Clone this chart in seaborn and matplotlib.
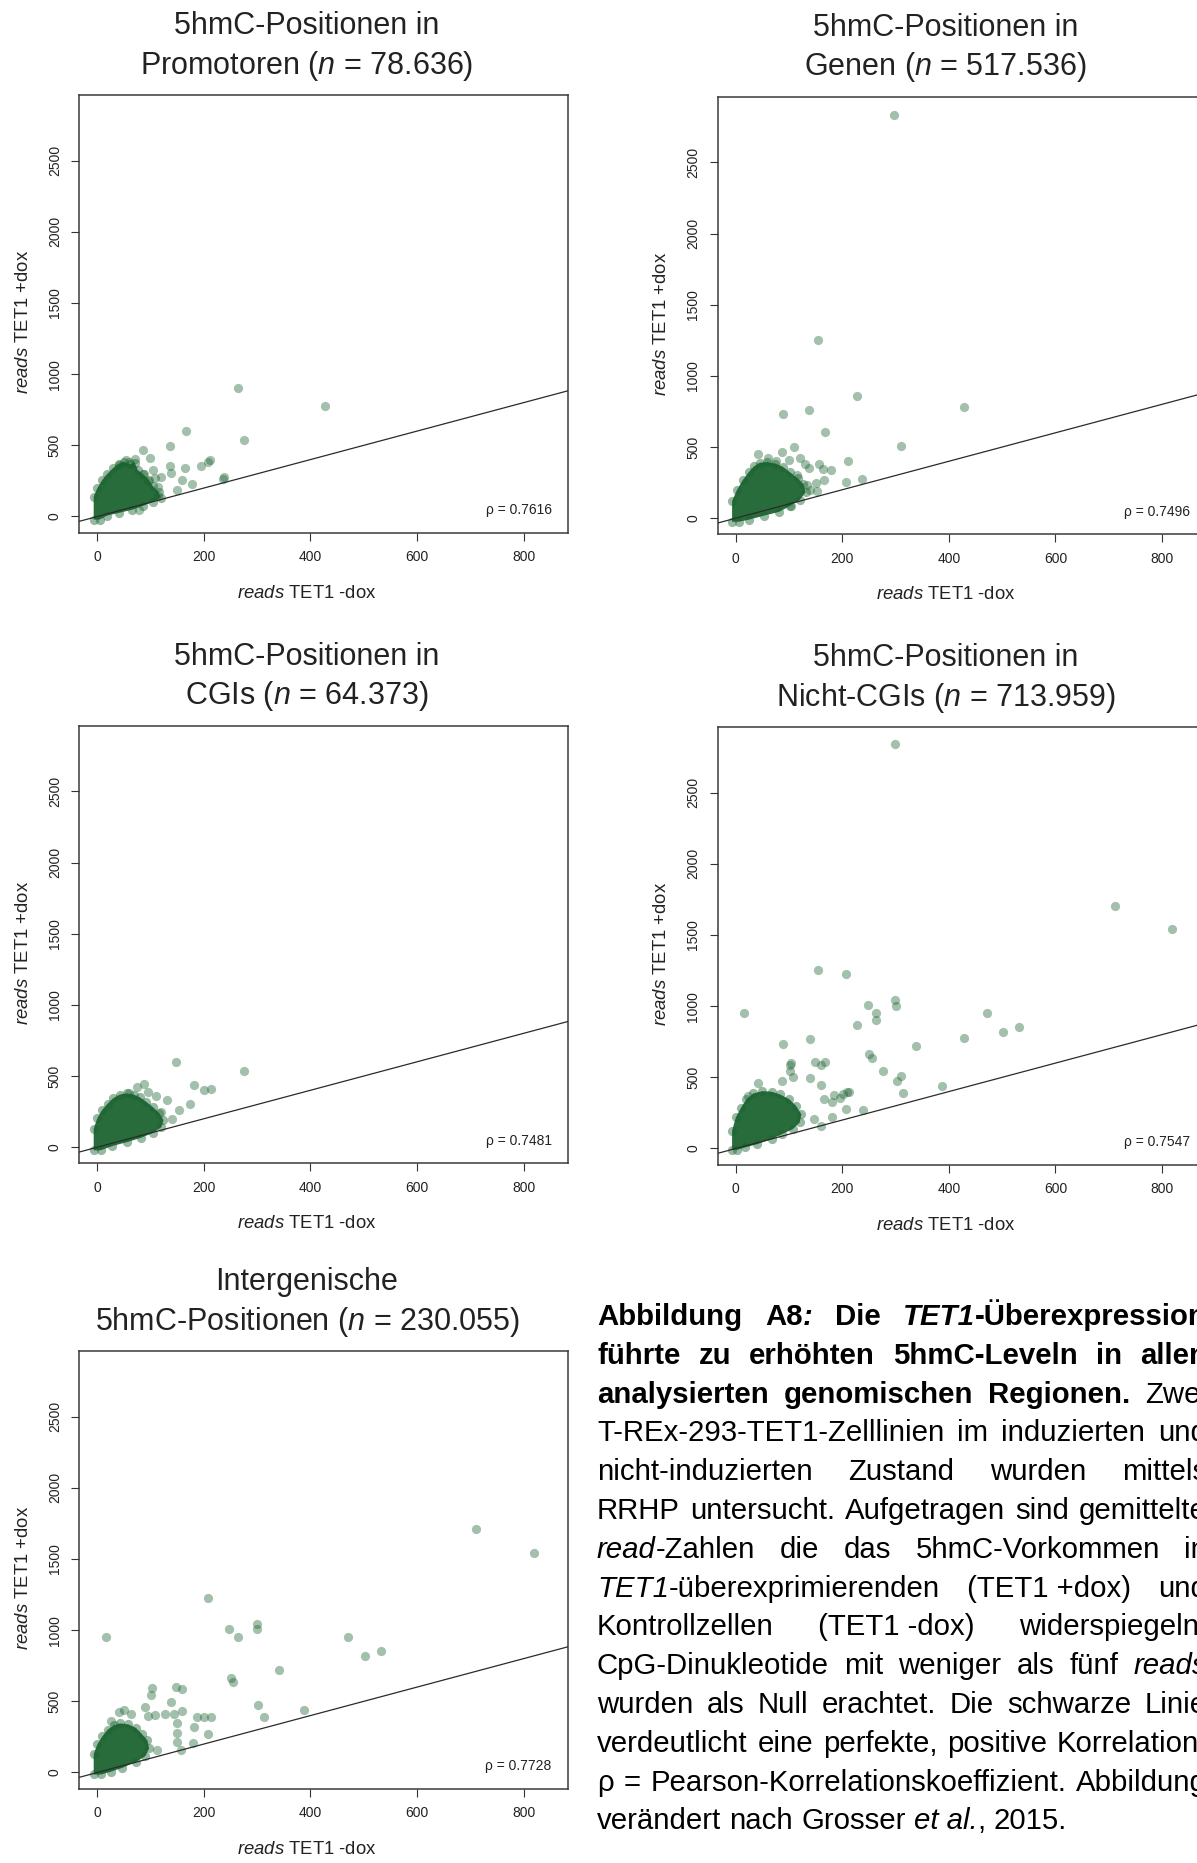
import matplotlib
matplotlib.use("Agg")
import matplotlib.pyplot as plt
import seaborn as sns

# ---------------------------------------------------------------------------
# Read counts (TET1 -dox on x, TET1 +dox on y).
# *_x / *_y : individually visible points around the dense cloud
# *_core_x / *_core_y : outline of the saturated point cloud near the origin
# ---------------------------------------------------------------------------
promo_x = [264, 428, 167, 276, 137, 85, 99, 70, 54, 211, 208, 104, 137, 165, 194,
           139, 108, 158, 177, 238, 236, 150, 113, 113, 78, 120, 95, 60, 88, 40]
promo_y = [903, 778, 603, 539, 492, 464, 414, 403, 400, 400, 386, 325, 353, 344, 353,
           303, 269, 256, 231, 278, 264, 186, 208, 144, 47, 280, 250, 380, 300, 360]
promo_core_x = [-7, -7, 0, 9, 18, 29, 40, 50, 61, 70, 76, 86, 97, 104, 115, 119,
                104, 86, 65, 40, 18, 4]
promo_core_y = [-22, 140, 200, 256, 297, 339, 372, 383, 367, 378, 325, 297, 256, 214,
                172, 131, 103, 75, 47, 25, 6, -22]

gene_x = [297, 154, 227, 138, 88, 429, 167, 311, 109, 41, 86, 211, 121, 99, 157,
          137, 179, 164, 130, 236, 206, 166, 151, 152, 103, 134, 115, 60, 75, 140]
gene_y = [2836, 1253, 858, 758, 733, 778, 606, 506, 497, 453, 467, 403, 422, 411, 381,
          350, 336, 347, 381, 272, 253, 267, 244, 192, 83, 231, 300, 420, 400, 200]
gene_core_x = [-7, -7, 2, 13, 24, 34, 45, 59, 74, 88, 102, 116, 127, 131, 120, 102,
               81, 52, 24, 6]
gene_core_y = [-25, 120, 197, 267, 322, 364, 390, 395, 384, 362, 322, 281, 239, 183,
               128, 86, 44, 17, -11, -25]

cgi_x = [147, 275, 213, 201, 181, 87, 154, 174, 130, 110, 95, 120, 60, 75, 140]
cgi_y = [601, 535, 410, 401, 434, 443, 259, 301, 330, 360, 390, 250, 380, 420, 200]
cgi_core_x = [-7, -7, 0, 9, 19, 30, 42, 55, 68, 80, 92, 104, 116, 124, 120, 104,
              82, 55, 28, 6]
cgi_core_y = [-22, 130, 205, 262, 305, 345, 370, 378, 370, 350, 318, 282, 240, 190,
              140, 100, 66, 35, 8, -22]

noncgi_x = [298, 711, 818, 154, 207, 16, 248, 299, 300, 264, 264, 227, 471, 532, 502,
            428, 139, 88, 339, 250, 255, 276, 311, 303, 313, 388, 103, 102, 148, 167,
            159, 101, 108, 139, 87, 41, 159, 23, 213, 208, 201, 185, 181, 195, 165,
            207, 238, 180, 159, 147]
noncgi_y = [2839, 1707, 1540, 1254, 1224, 950, 1011, 1043, 1003, 952, 905, 870, 954, 851, 818,
            778, 769, 736, 722, 664, 633, 542, 509, 476, 392, 441, 598, 584, 605, 605,
            589, 546, 499, 497, 476, 457, 443, 368, 396, 396, 382, 377, 326, 354, 345,
            274, 270, 218, 157, 209]
noncgi_core_x = [-7, -7, 0, 10, 20, 33, 50, 67, 83, 100, 113, 123, 120, 107, 87, 67,
                 40, 17, 3]
noncgi_core_y = [-9, 124, 218, 288, 347, 387, 403, 399, 380, 347, 300, 241, 183, 136,
                 101, 66, 30, 7, -9]

inter_x = [711, 819, 207, 16, 247, 264, 299, 300, 471, 503, 532, 340, 250, 255, 302,
           312, 388, 102, 101, 147, 158, 138, 90, 40, 50, 63, 95, 109, 126, 144,
           159, 150, 181, 187, 200, 214, 207, 150, 180, 149, 156, 25, 112]
inter_y = [1709, 1541, 1225, 951, 1011, 953, 1041, 1005, 953, 816, 852, 720, 662, 635, 473,
           390, 440, 593, 547, 602, 588, 495, 459, 426, 437, 409, 396, 404, 409, 409,
           431, 349, 321, 387, 393, 393, 272, 275, 206, 217, 157, 363, 157]
inter_core_x = [-7, -7, 0, 9, 19, 31, 43, 58, 72, 83, 94, 97, 90, 72, 47, 25, 7]
inter_core_y = [-14, 129, 198, 253, 300, 333, 345, 338, 314, 272, 225, 170, 115, 74,
                33, 5, -14]

titles_top = ["5hmC-Positionen in", "5hmC-Positionen in", "5hmC-Positionen in",
              "5hmC-Positionen in", "Intergenische"]
titles_bottom = ["Promotoren", "Genen", "CGIs", "Nicht-CGIs", "5hmC-Positionen"]
n_labels = ["78.636", "517.536", "64.373", "713.959", "230.055"]
rho_values = ["0.7616", "0.7496", "0.7481", "0.7547", "0.7728"]

x_ticks = [0, 200, 400, 600, 800]
y_ticks = [0, 500, 1000, 1500, 2000, 2500]
x_range = (0, 850)
y_range = (0, 2848)

# ---------------------------------------------------------------------------
sns.set_style("white")
plt.rcParams["font.family"] = ["Liberation Sans", "DejaVu Sans"]
plt.rcParams["mathtext.fontset"] = "custom"
plt.rcParams["mathtext.rm"] = "Liberation Sans"
plt.rcParams["mathtext.it"] = "Liberation Sans:italic"
plt.rcParams["mathtext.bf"] = "Liberation Sans:bold"

GREEN = "#1a6330"
INK = "#222222"
W, H = 1197, 1863
fig = plt.figure(figsize=(W / 100, H / 100), dpi=100)
fig.patch.set_facecolor("white")

AX_W, AX_H = 489, 437.7


def add_axes_px(left, top):
    return fig.add_axes([left / W, 1 - (top + AX_H) / H, AX_W / W, AX_H / H])


def pad_range(lo, hi):
    d = (hi - lo) * 0.04
    return lo - d, hi + d


def draw_panel(ax, px, py, cx, cy, t1, t2, n, rho):
    ax.set_xlim(*pad_range(*x_range))
    ax.set_ylim(*pad_range(*y_range))
    # saturated cloud of overlapping points near the origin
    ax.fill(cx, cy, color=GREEN, alpha=0.94, lw=0, zorder=2)
    sns.scatterplot(x=cx, y=cy, ax=ax, color=GREEN, alpha=0.45, s=44,
                    linewidth=0, zorder=2)
    # sparse points
    sns.scatterplot(x=px, y=py, ax=ax, color=GREEN, alpha=0.4, s=44,
                    linewidth=0, zorder=3)
    ax.axline((0, 0), slope=1, color="#2b2b2b", lw=0.9, zorder=4)

    ax.set_xticks(x_ticks)
    ax.set_yticks(y_ticks)
    ax.tick_params(axis="both", which="both", direction="out", length=6.1,
                   width=0.8, colors="#333333", labelcolor=INK, labelsize=10,
                   bottom=True, left=True, pad=6.5)
    for lbl in ax.get_yticklabels():
        lbl.set_rotation(90)
        lbl.set_va("center")
    for sp in ax.spines.values():
        sp.set_visible(True)
        sp.set_color("#3a3a3a")
        sp.set_linewidth(1.1)
    ax.set_xlabel("")
    ax.set_ylabel("")

    ax.text(0.4656, -0.1378, r"$\mathit{reads}$ TET1 -dox", transform=ax.transAxes,
            ha="center", va="center", fontsize=13.3, color=INK)
    ax.text(-0.1140, 0.4814, r"$\mathit{reads}$ TET1 +dox", transform=ax.transAxes,
            ha="center", va="center", rotation=90, fontsize=13.3, color=INK)
    ax.text(0.966, 0.052, "\u03c1 = " + rho, transform=ax.transAxes,
            ha="right", va="center", fontsize=10, color=INK)
    ax.text(0.4656, 1.1576, t1, transform=ax.transAxes, ha="center", va="center",
            fontsize=22, color=INK)
    ax.text(0.4656, 1.0670, t2 + r" ($\mathit{n}$ = " + n + ")", transform=ax.transAxes,
            ha="center", va="center", fontsize=22, color=INK)


panels = [
    ((79.3, 95.0), promo_x, promo_y, promo_core_x, promo_core_y),
    ((717.7, 96.7), gene_x, gene_y, gene_core_x, gene_core_y),
    ((79.3, 725.7), cgi_x, cgi_y, cgi_core_x, cgi_core_y),
    ((717.7, 727.0), noncgi_x, noncgi_y, noncgi_core_x, noncgi_core_y),
    ((79.3, 1351.0), inter_x, inter_y, inter_core_x, inter_core_y),
]
for i, (pos, px, py, cx, cy) in enumerate(panels):
    ax = add_axes_px(*pos)
    draw_panel(ax, px, py, cx, cy, titles_top[i], titles_bottom[i],
               n_labels[i], rho_values[i])

# ---------------------------------------------------------------------------
# Figure caption, set as a justified block of text
# ---------------------------------------------------------------------------
CAP_SIZE = 21.2
STY = {
    "r": dict(fontweight="normal", fontstyle="normal"),
    "b": dict(fontweight="bold", fontstyle="normal"),
    "i": dict(fontweight="normal", fontstyle="italic"),
    "bi": dict(fontweight="bold", fontstyle="italic"),
}


def words(s, st):
    return [[(w, st)] for w in s.split(" ")]


caption_lines = [
    [[("Abbildung", "b")], [("A8", "b"), (":", "bi")], [("Die", "b")],
     [("TET1", "bi"), ("-Überexpression", "b")]],
    words("führte zu erhöhten 5hmC-Leveln in allen", "b"),
    words("analysierten genomischen Regionen.", "b") + [[("Zwei", "r")]],
    words("T-REx-293-TET1-Zelllinien im induzierten und", "r"),
    words("nicht-induzierten Zustand wurden mittels", "r"),
    words("RRHP untersucht. Aufgetragen sind gemittelte", "r"),
    [[("read", "i"), ("-Zahlen", "r")]] + words("die das 5hmC-Vorkommen in", "r"),
    [[("TET1", "i"), ("-überexprimierenden", "r")], [("(TET1 +dox)", "r")], [("und", "r")]],
    [[("Kontrollzellen", "r")], [("(TET1 -dox)", "r")], [("widerspiegeln.", "r")]],
    words("CpG-Dinukleotide mit weniger als fünf", "r") + [[("reads", "i")]],
    words("wurden als Null erachtet. Die schwarze Linie", "r"),
    words("verdeutlicht eine perfekte, positive Korrelation.", "r"),
    words("\u03c1 = Pearson-Korrelationskoeffizient. Abbildung", "r"),
    words("verändert nach Grosser", "r") + [[("et al.", "i"), (",", "r")], [("2015.", "r")]],
]

fig.canvas.draw()
rend = fig.canvas.get_renderer()


def measure(s, st):
    t = fig.text(0, 0, s, fontsize=CAP_SIZE, **STY[st])
    w = t.get_window_extent(rend).width
    t.remove()
    return w


space_w = measure("n n", "r") - measure("nn", "r")
CAP_LEFT, CAP_RIGHT = 597.0, 1207.0
BASE0, LEAD = 1325.0, 38.8

for li, line in enumerate(caption_lines):
    seg_w = [[measure(s, st) for s, st in word] for word in line]
    word_w = [sum(ws) for ws in seg_w]
    last = li == len(caption_lines) - 1
    if last or len(line) == 1:
        gap = space_w
    else:
        gap = (CAP_RIGHT - CAP_LEFT - sum(word_w)) / (len(line) - 1)
    x = CAP_LEFT
    y = BASE0 + li * LEAD
    for word, ws in zip(line, seg_w):
        xx = x
        for (s, st), w in zip(word, ws):
            fig.text(xx / W, 1 - y / H, s, fontsize=CAP_SIZE, ha="left",
                     va="baseline", color="black", **STY[st])
            xx += w
        x = xx + gap

fig.savefig("out.png", dpi=100, facecolor="white")
